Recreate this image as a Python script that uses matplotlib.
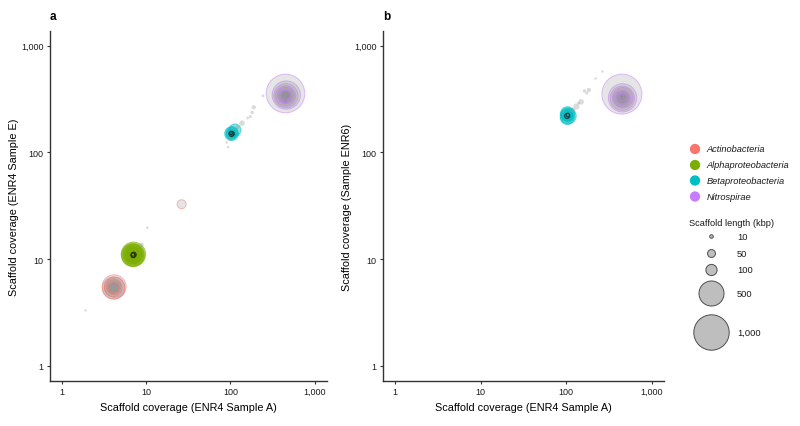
import matplotlib
matplotlib.use("Agg")
import matplotlib.pyplot as plt
from matplotlib.ticker import FixedLocator, FixedFormatter, NullLocator
from matplotlib.colors import to_rgba

plt.rcParams['font.family'] = ['Liberation Sans', 'DejaVu Sans']

taxa = ['Actinobacteria', 'Alphaproteobacteria', 'Betaproteobacteria', 'Nitrospirae']
taxa_colors = ['#F8766D', '#7CAE00', '#00BFC4', '#C77CFF']

# panel a: coverage in ENR4 sample A (x) vs ENR4 sample E (y), length in kbp
a_taxon = (['Actinobacteria'] * 8 + ['Alphaproteobacteria'] * 12 +
           ['Betaproteobacteria'] * 8 + ['Nitrospirae'] * 9 + [None] * 13)
a_x = [4.15, 4.1, 4.2, 4.05, 4.12, 4.1, 4.1, 26.3,
       7.05, 6.95, 7.0, 7.0, 7.02, 6.98, 7.0, 7.05, 6.9, 7.1, 7.0, 6.95,
       103, 104, 102, 113, 104, 103, 105, 101,
       450, 460, 455, 450, 452, 448, 455, 452, 450,
       1.9, 10.3, 8.8, 137, 181, 189, 172, 243, 94, 90, 98, 120, 160]
a_y = [5.5, 5.35, 5.45, 5.4, 5.45, 5.4, 5.38, 32.7,
       11.1, 10.9, 11.0, 11.05, 10.95, 11.0, 11.1, 10.9, 11.2, 11.0, 10.8, 11.05,
       150, 152, 148, 162, 150, 149, 151, 152,
       357, 345, 340, 338, 342, 336, 345, 305, 340,
       3.3, 19.7, 13.6, 188, 237, 265, 217, 340, 112, 124, 132, 172, 210]
a_len = [460, 400, 330, 260, 180, 110, 80, 65,
         470, 420, 350, 280, 220, 160, 100, 60, 30, 20, 15, 10,
         150, 110, 80, 115, 40, 20, 10, 8,
         1190, 640, 470, 330, 220, 130, 60, 13, 90,
         5, 5, 15, 25, 10, 15, 8, 6, 5, 5, 8, 12, 6]

# panel b: coverage in ENR4 sample A (x) vs sample ENR6 (y)
b_taxon = ['Betaproteobacteria'] * 9 + ['Nitrospirae'] * 9 + [None] * 9
b_x = [104, 103, 106, 102, 105, 104, 103, 105, 108,
       450, 458, 455, 460, 452, 456, 458, 450, 456,
       132, 150, 164, 185, 222, 266, 140, 175, 120]
b_y = [230, 212, 220, 226, 216, 222, 220, 224, 232,
       352, 325, 322, 326, 320, 324, 330, 335, 322,
       270, 298, 377, 385, 493, 573, 290, 360, 250]
b_len = [160, 150, 200, 110, 80, 40, 20, 10, 60,
         1275, 640, 470, 330, 220, 130, 40, 12, 90,
         30, 25, 10, 15, 5, 5, 8, 8, 20]

size_breaks = [10, 50, 100, 500, 1000]
size_labels = ['10', '50', '100', '500', '1,000']
tick_vals = [1, 10, 100, 1000]
tick_labels = ['1', '10', '100', '1,000']

S = 0.65  # points^2 per kbp
cmap = dict(zip(taxa, taxa_colors))


def draw_panel(ax, xs, ys, lens, taxon, ylabel):
    faces, edges, lws = [], [], []
    for t, L in zip(taxon, lens):
        if t is None:
            faces.append(to_rgba('#9a9a9a', 0.35))
            edges.append((0, 0, 0, 0))
            lws.append(0)
        elif t in ('Alphaproteobacteria', 'Betaproteobacteria'):
            faces.append(to_rgba(cmap[t], 0.45))
            edges.append(to_rgba('#1a1a1a', 0.8) if L <= 20 else to_rgba(cmap[t], 0.55))
            lws.append(0.8)
        else:
            faces.append(to_rgba('#7f7f7f', 0.2))
            edges.append(to_rgba(cmap[t], 0.5))
            lws.append(0.7)
    order = sorted(range(len(lens)), key=lambda i: -lens[i])
    ax.scatter([xs[i] for i in order], [ys[i] for i in order],
               s=[S * lens[i] for i in order],
               c=[faces[i] for i in order], edgecolors=[edges[i] for i in order],
               linewidths=[lws[i] for i in order])
    ax.set_xscale('log')
    ax.set_yscale('log')
    ax.set_xlim(0.72, 1400)
    ax.set_ylim(0.72, 1375)
    for axis in (ax.xaxis, ax.yaxis):
        axis.set_major_locator(FixedLocator(tick_vals))
        axis.set_major_formatter(FixedFormatter(tick_labels))
        axis.set_minor_locator(NullLocator())
    ax.spines['top'].set_visible(False)
    ax.spines['right'].set_visible(False)
    for sp in ('left', 'bottom'):
        ax.spines[sp].set_color('#333333')
        ax.spines[sp].set_linewidth(1.0)
    ax.tick_params(length=2.5, width=0.8, color='#333333', labelsize=6.5,
                   labelcolor='#1a1a1a', pad=2)
    ax.set_xlabel('Scaffold coverage (ENR4 Sample A)', fontsize=7.8, labelpad=4)
    ax.set_ylabel(ylabel, fontsize=7.8, labelpad=1.5)


fig = plt.figure(figsize=(8, 4.27), dpi=100)
ax_a = fig.add_axes([50 / 800, 1 - 382 / 427, 277 / 800, 350 / 427])
ax_b = fig.add_axes([383 / 800, 1 - 382 / 427, 281 / 800, 350 / 427])
draw_panel(ax_a, a_x, a_y, a_len, a_taxon, 'Scaffold coverage (ENR4 Sample E)')
draw_panel(ax_b, b_x, b_y, b_len, b_taxon, 'Scaffold coverage (Sample ENR6)')

# legends and panel letters, laid out in figure pixels
lg = fig.add_axes([0, 0, 1, 1])
lg.set_xlim(0, 800)
lg.set_ylim(427, 0)
lg.axis('off')
lg.patch.set_alpha(0)
lg.text(50, 17, 'a', fontsize=8.5, fontweight='bold', va='center', ha='left')
lg.text(383, 17, 'b', fontsize=8.5, fontweight='bold', va='center', ha='left')
taxa_rows = [150, 166, 181.5, 197.5]
lg.scatter([695] * len(taxa), taxa_rows, s=55, c=taxa_colors, edgecolors='none')
for name, yy in zip(taxa, taxa_rows):
    lg.text(706.5, yy, name, fontsize=6.7, style='italic', va='center', ha='left',
            color='#1a1a1a')
lg.text(689, 224, 'Scaffold length (kbp)', fontsize=6.7, va='center', ha='left',
        color='#1a1a1a')
size_rows = [237.5, 254.5, 271, 294.5, 333.5]
lg.scatter([711.5] * len(size_breaks), size_rows, s=[S * v for v in size_breaks],
           c='#bebebe', edgecolors='#4d4d4d', linewidths=0.7)
for lab, yy in zip(size_labels, size_rows):
    lg.text(737, yy, lab, fontsize=6.7, va='center', ha='left', color='#1a1a1a')

fig.savefig('out.png', dpi=100)
